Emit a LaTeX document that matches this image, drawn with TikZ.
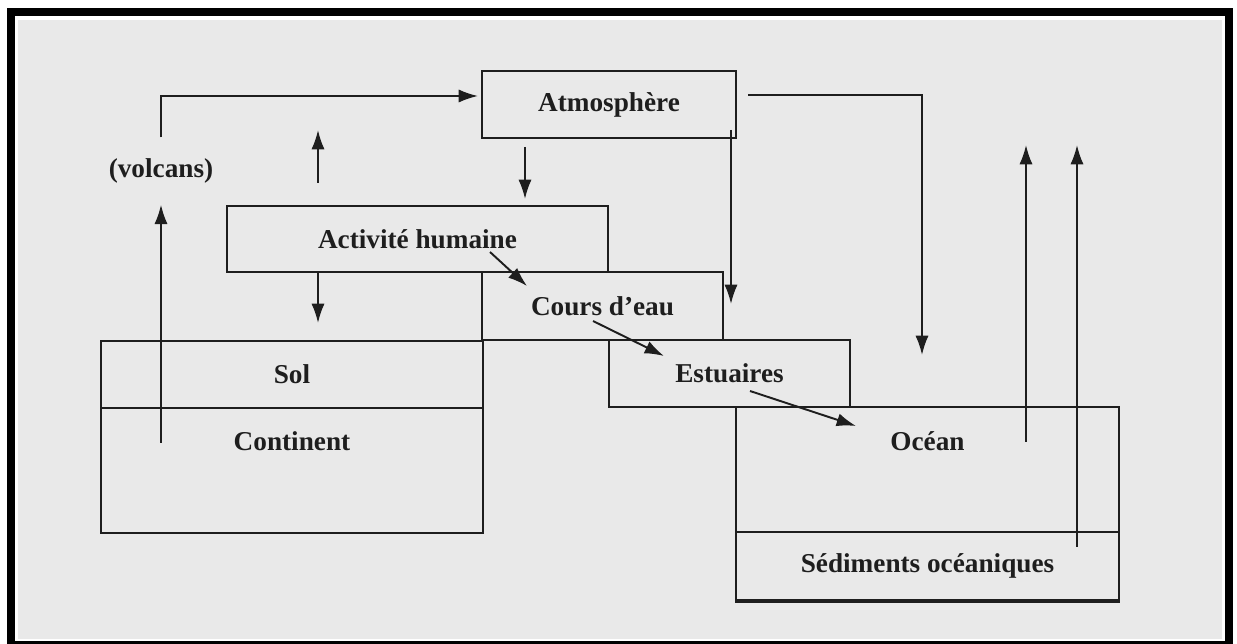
\documentclass[tikz,border=0pt]{standalone}
\usepackage{fontspec}
\setmainfont{Liberation Serif}
\usetikzlibrary{arrows.meta}
\definecolor{paper}{RGB}{233,233,233}
\definecolor{ink}{RGB}{30,30,30}
\tikzset{
  res/.style={draw=ink,line width=1.1pt,inner sep=0pt,fill=none},
  lbl/.style={font=\bfseries\fontsize{15.5}{18}\selectfont,text=ink,inner sep=1pt},
  flux/.style={draw=ink,line width=1.1pt,-{Latex[length=11pt,width=7.5pt]}},
  every picture/.style={x=0.02cm,y=-0.02cm}
}
\begin{document}
\begin{tikzpicture}
  \useasboundingbox (0,0) rectangle (1237,644);
  % frame and paper
  \fill[white] (0,0) rectangle (1237,644);
  \fill[black] (7,8) rectangle (1233,644);
  \fill[white] (15,16) rectangle (1225,641);
  \fill[paper] (18,20) rectangle (1222,639);
  % reservoirs
  \node[res,minimum width=5.08cm,minimum height=1.34cm] (atm) at (609,104.5) {};
  \node[res,minimum width=7.62cm,minimum height=1.32cm] (act) at (417.5,239) {};
  \node[res,minimum width=4.82cm,minimum height=1.36cm] (cours) at (602.5,306) {};
  \node[res,minimum width=4.82cm,minimum height=1.34cm] (estu) at (729.5,373.5) {};
  \node[res,minimum width=7.64cm,minimum height=1.34cm] (sol) at (292,374.5) {};
  \node[res,minimum width=7.64cm,minimum height=2.5cm] (cont) at (292,470.5) {};
  \node[res,minimum width=7.66cm,minimum height=2.5cm] (ocean) at (927.5,469.5) {};
  \node[res,minimum width=7.66cm,minimum height=1.36cm] (sed) at (927.5,566) {};
  \draw[ink,line width=2.2pt] (sed.south west) -- (sed.south east);
  % labels
  \node[lbl] (tatm) at (atm.center) {Atmosphère};
  \node[lbl] (tact) at (act.center) {Activité humaine};
  \node[lbl] (tcours) at (cours.center) {Cours d’eau};
  \node[lbl] (testu) at (estu.center) {Estuaires};
  \node[lbl] (tsol) at (sol.center) {Sol};
  \node[lbl] (tcont) at ([yshift=-0.68cm]cont.north) {Continent};
  \node[lbl] (tocean) at ([yshift=-0.7cm]ocean.north) {Océan};
  \node[lbl] (tsed) at (sed.center) {Sédiments océaniques};
  \node[lbl,inner ysep=0.42cm] (volc) at (161,171) {(volcans)};
  % flux ends
  \coordinate (v0) at (161,443);
  \coordinate (v1) at (478,96);
  \coordinate (h1) at (318,183); \coordinate (h2) at (318,130);
  \coordinate (h3) at (318,272); \coordinate (h4) at (318,323);
  \coordinate (a1) at (525,147); \coordinate (a2) at (525,199);
  \coordinate (a3) at (731,130); \coordinate (a4) at (731,304);
  \coordinate (a5) at (748,95);  \coordinate (a6) at (922,355);
  \coordinate (d1) at (490,252); \coordinate (d2) at (527,286);
  \coordinate (d3) at (593,321); \coordinate (d4) at (664,356);
  \coordinate (d5) at (750,391); \coordinate (d6) at (856,426);
  \coordinate (o1) at (1026,442); \coordinate (o2) at (1026,145);
  \coordinate (o3) at (1077,547); \coordinate (o4) at (1077,145);
  % flux
  \draw[flux] (v0) -- (volc.south);
  \draw[flux] (volc.north) |- (v1);
  \draw[flux] (h1) -- (h2);
  \draw[flux] (h3) -- (h4);
  \draw[flux] (a1) -- (a2);
  \draw[flux] (a3) -- (a4);
  \draw[flux] (a5) -| (a6);
  \draw[flux] (d1) -- (d2);
  \draw[flux] (d3) -- (d4);
  \draw[flux] (d5) -- (d6);
  \draw[flux] (o1) -- (o2);
  \draw[flux] (o3) -- (o4);
\end{tikzpicture}
\end{document}
